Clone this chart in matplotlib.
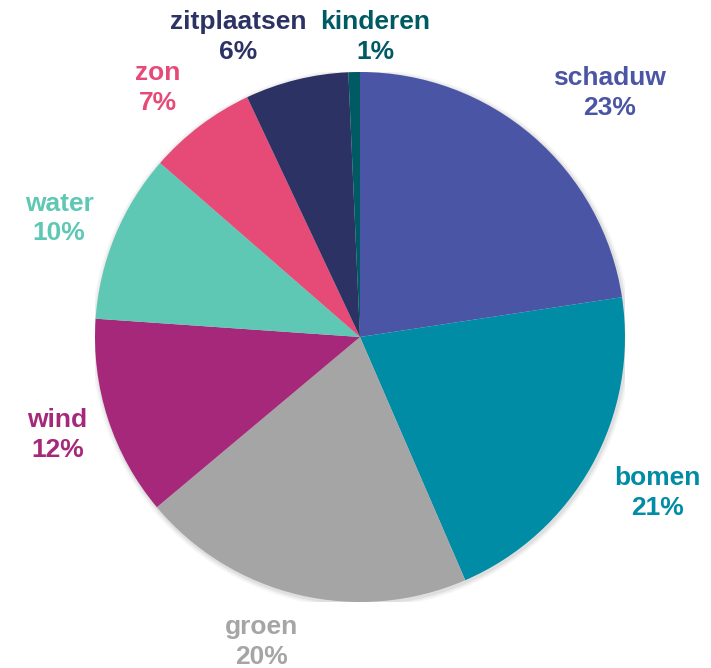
import numpy as np
import matplotlib.pyplot as plt
from matplotlib.patches import Circle

labels = ["schaduw", "bomen", "groen", "wind", "water", "zon", "zitplaatsen", "kinderen"]
values = [22.6, 20.9, 20.4, 12.2, 10.3, 6.6, 6.3, 0.7]
colors = ["#4B55A5", "#008CA5", "#A5A5A5", "#A5287A", "#5FC8B4", "#E64B78", "#2D3264", "#005A64"]

# label placement: radial distance and small angular nudge (degrees)
label_dist = [1.316, 1.266, 1.209, 1.20, 1.22, 1.21, 1.222, 1.134]
label_nudge = [-4.9, 1.3, -4.5, 0, 1, 2, 8.2, -4.2]

plt.rcParams["font.family"] = ["Liberation Sans", "DejaVu Sans"]

fig = plt.figure(figsize=(7.11, 6.68), dpi=100)
ax = fig.add_axes([95 / 711, 66 / 668, 530 / 711, 530 / 668])

# soft shadow under the pie
for r, a in [(1.018, 0.03), (1.012, 0.04), (1.006, 0.06)]:
    ax.add_patch(Circle((0.004, -0.006), r, color="black", alpha=a, lw=0, zorder=0))

wedges, _ = ax.pie(values, colors=colors, startangle=90, counterclock=False,
                   radius=1, wedgeprops=dict(linewidth=0))

total = sum(values)
for w, lab, v, col, d, nd in zip(wedges, labels, values, colors, label_dist, label_nudge):
    mid = np.deg2rad((w.theta1 + w.theta2) / 2 + nd)
    ax.text(d * np.cos(mid), d * np.sin(mid), f"{lab}\n{round(v / total * 100)}%",
            ha="center", va="center", color=col, fontsize=19, fontweight="bold",
            linespacing=1.3)

ax.set_xlim(-1, 1)
ax.set_ylim(-1, 1)
ax.set_aspect("equal")
ax.axis("off")

fig.savefig("out.png", dpi=100)
